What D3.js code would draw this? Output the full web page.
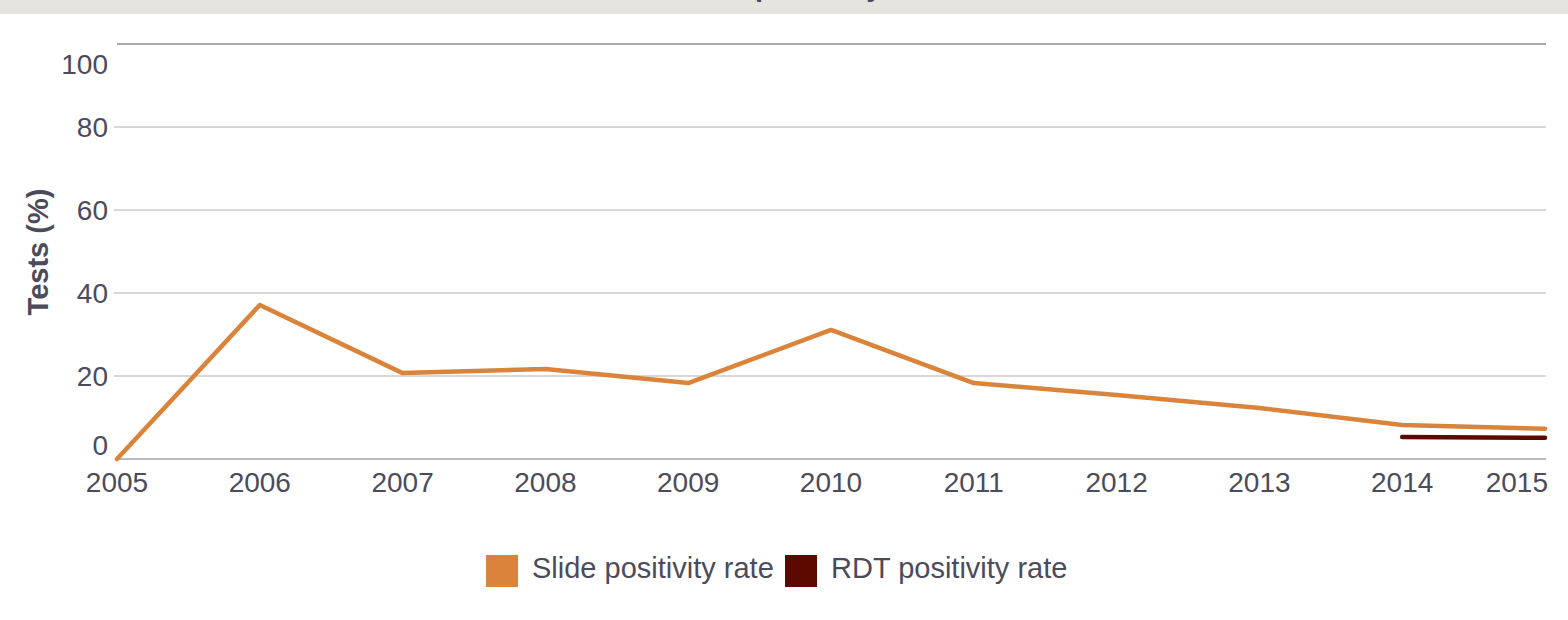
<!DOCTYPE html>
<html>
<head>
<meta charset="utf-8">
<script src="https://cdn.jsdelivr.net/npm/d3@7"></script>
<style>
  body { margin: 0; background: #fff; }
  svg { display: block; font-family: "Liberation Sans", Arial, sans-serif; }
</style>
</head>
<body>
<svg width="1568" height="620"></svg>
<script>
// data
var years = [2005, 2006, 2007, 2008, 2009, 2010, 2011, 2012, 2013, 2014, 2015];
var slideRate = [0, 37.1, 20.7, 21.7, 18.3, 31.1, 18.3, 15.4, 12.3, 8.2, 7.3];
var rdtYears = [2014, 2015];
var rdtRate = [5.3, 5.1];
var yTicks = [0, 20, 40, 60, 80, 100];
var seriesNames = ["Slide positivity rate", "RDT positivity rate"];
var seriesColors = ["#d9843a", "#5c0a00"];

var svg = d3.select("svg"),
    textCol = "#4b4b5b";

// header band, title mostly scrolled out of view like the original
svg.append("rect").attr("x", 0).attr("y", 0).attr("width", 1568).attr("height", 14).attr("fill", "#e6e4df");
svg.append("text")
    .attr("x", 786).attr("y", -4)
    .attr("text-anchor", "middle")
    .attr("font-size", 29).attr("font-weight", "bold")
    .attr("fill", textCol)
    .text("Test positivity");

var xScale = d3.scaleLinear().domain([2005, 2015]).range([117, 1545]);
var yScale = d3.scaleLinear().domain([0, 100]).range([459, 44]);

// gridlines
svg.append("g").selectAll("line")
    .data(yTicks.filter(function(d){ return d > 0; }))
    .enter().append("line")
    .attr("x1", function(d){ return d == 100 ? 117 : 114; })
    .attr("x2", 1546)
    .attr("y1", function(d){ return yScale(d); })
    .attr("y2", function(d){ return yScale(d); })
    .attr("stroke", function(d){ return d == 100 ? "#aaaaaa" : "#d8d8d8"; })
    .attr("stroke-width", 2);

// y tick labels (ends pulled inward like the original)
svg.append("g").selectAll("text")
    .data(yTicks)
    .enter().append("text")
    .attr("x", 108)
    .attr("y", function(d){ return Math.max(64, Math.min(445, yScale(d))); })
    .attr("dy", "0.35em")
    .attr("text-anchor", "end")
    .attr("font-size", 28)
    .attr("fill", textCol)
    .text(function(d){ return d; });

// y axis title
svg.append("text")
    .attr("transform", "translate(48,252) rotate(-90)")
    .attr("text-anchor", "middle")
    .attr("font-size", 29).attr("font-weight", "bold")
    .attr("fill", textCol)
    .text("Tests (%)");

// x axis
svg.append("line")
    .attr("x1", 117).attr("x2", 1546)
    .attr("y1", 459).attr("y2", 459)
    .attr("stroke", "#bbbbbb").attr("stroke-width", 2);

svg.append("g").selectAll("text")
    .data(years)
    .enter().append("text")
    .attr("x", function(d){ return d == 2015 ? 1548 : xScale(d); })
    .attr("y", 492)
    .attr("text-anchor", function(d){ return d == 2015 ? "end" : "middle"; })
    .attr("font-size", 28)
    .attr("fill", textCol)
    .text(function(d){ return d; });

// lines
var line = d3.line()
    .x(function(d){ return xScale(d[0]); })
    .y(function(d){ return yScale(d[1]); });

svg.append("path")
    .datum(years.map(function(y, i){ return [y, slideRate[i]]; }))
    .attr("d", line)
    .attr("fill", "none")
    .attr("stroke", seriesColors[0])
    .attr("stroke-width", 4.5)
    .attr("stroke-linejoin", "round")
    .attr("stroke-linecap", "round");

svg.append("path")
    .datum(rdtYears.map(function(y, i){ return [y, rdtRate[i]]; }))
    .attr("d", line)
    .attr("fill", "none")
    .attr("stroke", seriesColors[1])
    .attr("stroke-width", 4.5)
    .attr("stroke-linecap", "round");

// legend
var legendX = [486, 785];
var leg = svg.append("g").selectAll("g")
    .data(seriesNames)
    .enter().append("g")
    .attr("transform", function(d, i){ return "translate(" + legendX[i] + ",555)"; });
leg.append("rect")
    .attr("width", 32).attr("height", 32)
    .attr("fill", function(d, i){ return seriesColors[i]; });
leg.append("text")
    .attr("x", 46).attr("y", 23)
    .attr("font-size", 29)
    .attr("fill", textCol)
    .text(function(d){ return d; });
</script>
</body>
</html>
